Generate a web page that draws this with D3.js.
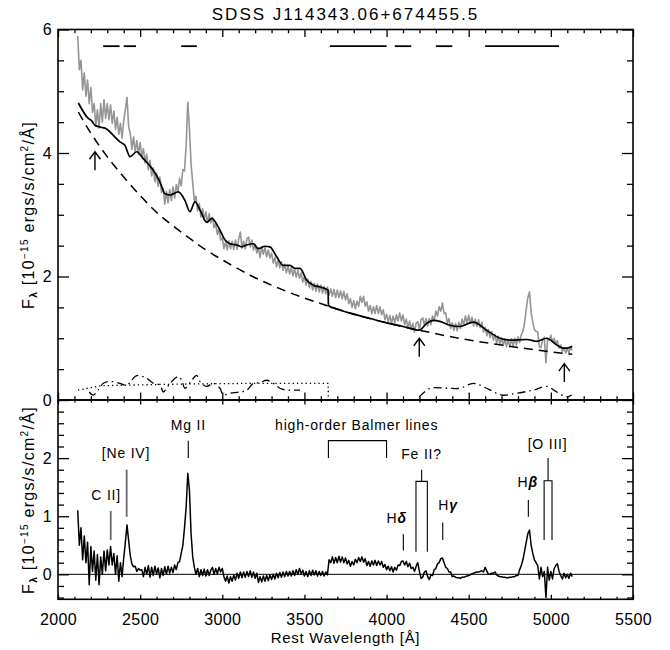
<!DOCTYPE html>
<html><head><meta charset="utf-8">
<script src="https://cdn.jsdelivr.net/npm/d3@7/dist/d3.min.js"></script>
<style>
body{margin:0;background:#fff;}
svg text{font-family:"Liberation Sans",Arial,Helvetica,sans-serif;fill:#000;}
</style></head><body>
<svg id="chart" width="670" height="650"></svg>
<script>
// ---------------- DATA ----------------
const titleText = "SDSS J114343.06+674455.5";
const waveStart = 2120, waveStep = 10;   // wavelength grid of the observed spectrum (Å)

// observed spectrum (grey), 10^-15 erg/s/cm2/Å, 2120..5130 Å
const observedFlux = [
 5.90,5.35,5.50,5.02,5.30,4.92,5.18,4.80,5.06,4.66,
 4.80,4.44,4.70,4.40,4.80,4.50,4.86,4.56,4.80,4.54,
 4.78,4.48,4.68,4.38,4.58,4.30,4.48,4.24,4.52,4.70,
 4.90,4.42,4.32,4.06,4.26,4.02,4.20,3.98,4.17,3.94,
 4.07,3.84,3.98,3.73,3.88,3.63,3.76,3.53,3.67,3.46,
 3.61,3.36,3.43,3.17,3.38,3.19,3.41,3.23,3.45,3.27,
 3.49,3.37,3.59,3.47,3.73,3.71,4.12,4.82,4.40,3.82,
 3.52,3.22,3.30,3.06,3.18,2.96,3.10,2.92,3.05,2.87,
 3.02,2.87,2.96,2.79,2.86,2.68,2.76,2.59,2.63,2.45,
 2.56,2.43,2.58,2.45,2.57,2.44,2.59,2.44,2.61,2.72,
 2.46,2.57,2.45,2.61,2.64,2.48,2.59,2.43,2.52,2.38,
 2.46,2.31,2.48,2.36,2.47,2.32,2.43,2.30,2.38,2.22,
 2.31,2.16,2.26,2.14,2.24,2.10,2.20,2.06,2.17,2.04,
 2.15,2.01,2.12,1.99,2.10,1.97,2.06,1.91,2.00,1.86,
 1.96,1.82,1.92,1.78,1.89,1.76,1.88,1.75,1.86,1.73,
 1.84,1.72,1.83,1.70,1.80,1.68,1.79,1.66,1.78,1.66,
 1.77,1.64,1.76,1.62,1.72,1.56,1.64,1.50,1.61,1.48,
 1.60,1.52,1.68,1.58,1.68,1.52,1.59,1.44,1.53,1.40,
 1.51,1.40,1.53,1.40,1.51,1.38,1.46,1.30,1.39,1.26,
 1.37,1.24,1.36,1.25,1.38,1.28,1.41,1.28,1.38,1.22,
 1.31,1.17,1.28,1.14,1.24,1.10,1.24,1.27,1.13,1.30,
 1.33,1.21,1.32,1.20,1.32,1.22,1.36,1.28,1.44,1.36,
 1.51,1.44,1.57,1.40,1.41,1.24,1.32,1.16,1.25,1.13,
 1.24,1.12,1.26,1.16,1.31,1.22,1.36,1.24,1.37,1.24,
 1.34,1.20,1.31,1.19,1.30,1.17,1.26,1.10,1.18,1.04,
 1.14,1.01,1.11,0.97,1.06,0.92,1.03,0.90,1.01,0.88,
 0.99,0.86,0.98,0.86,0.99,0.87,1.00,0.89,1.02,0.93,
 1.06,1.11,1.25,1.47,1.66,1.75,1.42,1.26,1.14,1.11,
 1.10,0.86,0.85,0.97,1.02,0.60,0.98,0.97,1.05,0.94,
 1.00,0.91,0.96,0.84,0.89,0.78,0.85,0.76,0.83,0.76,0.86,0.80
];

// residual spectrum (bottom panel), same grid
const residualFlux = [
 1.10,0.50,0.80,0.25,0.66,0.20,0.55,-0.18,0.48,0.05,
 0.40,-0.10,0.34,-0.18,0.30,0.00,0.40,0.06,0.42,0.16,
 0.48,0.16,0.36,0.00,0.32,-0.12,0.20,-0.04,0.28,0.55,
 0.85,0.58,0.32,0.18,0.13,0.14,0.05,0.10,0.07,0.08,
 -0.04,0.12,0.00,0.15,-0.05,0.12,-0.02,0.14,0.01,0.11,
 -0.06,0.10,-0.02,0.13,0.00,0.14,0.02,0.12,0.03,0.16,
 0.08,0.20,0.22,0.36,0.50,0.80,1.15,1.74,1.45,0.70,
 0.30,0.12,0.00,0.10,-0.04,0.08,-0.02,0.09,-0.03,0.08,
 -0.02,0.07,0.12,0.00,0.10,0.01,0.12,0.04,0.10,-0.04,
 -0.12,-0.03,-0.15,-0.04,-0.12,-0.01,-0.10,0.02,-0.07,0.04,
 -0.06,0.04,-0.05,0.05,-0.04,0.06,-0.05,0.04,-0.07,0.02,
 -0.14,-0.04,-0.13,-0.03,-0.12,-0.02,-0.11,-0.01,-0.09,0.00,
 -0.08,0.02,-0.06,0.03,-0.05,0.04,-0.04,0.05,-0.03,0.05,
 -0.03,0.06,-0.02,0.08,0.00,0.10,0.01,0.07,-0.03,0.05,
 -0.04,0.06,-0.02,0.07,-0.01,0.06,-0.03,0.05,-0.02,0.05,
 -0.03,0.04,-0.01,0.25,0.20,0.30,0.19,0.29,0.20,0.31,
 0.21,0.30,0.20,0.28,0.18,0.24,0.14,0.22,0.16,0.26,
 0.20,0.29,0.22,0.30,0.21,0.27,0.15,0.22,0.14,0.23,
 0.16,0.24,0.15,0.23,0.16,0.22,0.12,0.17,0.08,0.14,
 0.06,0.13,0.04,0.12,0.07,0.16,0.15,0.22,0.23,0.16,
 0.22,0.13,0.19,0.10,0.12,0.05,0.14,0.20,0.05,-0.07,
 -0.05,0.04,0.06,-0.04,-0.09,-0.01,-0.02,0.08,0.10,0.18,
 0.20,0.27,0.28,0.20,0.12,0.10,0.04,0.04,-0.04,-0.03,
 -0.05,-0.06,-0.06,-0.07,-0.05,-0.05,-0.04,-0.03,-0.02,-0.01,
 0.01,0.02,0.03,0.04,0.04,0.05,0.06,0.04,0.12,0.06,
 0.00,0.00,0.02,0.02,0.04,-0.01,-0.03,-0.04,-0.04,-0.05,
 -0.05,-0.06,-0.06,-0.05,-0.05,-0.04,-0.04,-0.02,-0.02,0.08,
 0.15,0.25,0.40,0.55,0.70,0.76,0.50,0.36,0.25,0.20,
 0.15,-0.08,0.12,-0.04,0.05,-0.40,0.12,-0.10,0.05,-0.08,
 0.10,0.15,0.18,0.05,-0.02,-0.08,0.02,-0.06,0.00,-0.07,0.02,-0.04
];

// total model fit (solid black)
const modelWave = [2124,2184,2205,2225,2256,2296,2335,2377,2408,2438,2479,2519,2580,2621,2651,2682,2732,2773,2803,2834,2864,2905,2936,2976,3017,3047,3088,3118,3149,3189,3219,3260,3290,3331,3371,3412,3443,3473,3514,3554,3595,3644,3646,3700,3800,3900,4000,4100,4173,4199,4244,4284,4330,4386,4447,4528,4609,4690,4751,4853,4914,4975,5036,5076,5100,5130];
const modelFlux = [4.81,4.56,4.52,4.45,4.42,4.39,4.29,4.18,4.12,3.94,4.02,3.91,3.72,3.53,3.34,3.32,3.37,3.23,3.05,3.21,3.08,2.88,2.94,2.80,2.59,2.53,2.51,2.48,2.51,2.53,2.45,2.49,2.48,2.32,2.18,2.18,2.13,2.13,1.94,1.86,1.83,1.78,1.53,1.47,1.39,1.32,1.25,1.19,1.14,1.13,1.24,1.29,1.27,1.21,1.19,1.26,1.13,1.00,0.97,0.98,0.95,1.00,0.89,0.84,0.84,0.87];

// power-law continuum (dashed)
const powerWave = [2124,2200,2300,2400,2500,2600,2700,2800,2900,3000,3200,3400,3646,3800,4000,4200,4400,4600,4800,5000,5130];
const powerFlux = [4.66,4.32,3.94,3.61,3.31,3.04,2.82,2.62,2.43,2.27,1.98,1.75,1.52,1.39,1.25,1.13,1.02,0.93,0.85,0.78,0.74];

// Balmer continuum (dotted)
const balmerWave = [2122,2200,2260,2400,2800,3200,3644,3646];
const balmerFlux = [0.16,0.20,0.23,0.24,0.26,0.27,0.27,0.03];

// Fe II template (dash-dot), two pieces
const feWaveUV = [2190,2215,2240,2276,2317,2377,2418,2469,2489,2540,2580,2621,2641,2682,2732,2753,2773,2814,2844,2864,2905,2945,2986,3006,3047,3108,3149,3189,3230,3270,3311,3351,3392,3432,3473];
const feFluxUV = [0.13,0.08,0.15,0.27,0.30,0.27,0.24,0.38,0.40,0.35,0.27,0.24,0.13,0.27,0.38,0.32,0.19,0.32,0.40,0.30,0.22,0.27,0.19,0.08,0.11,0.13,0.16,0.27,0.28,0.32,0.27,0.19,0.16,0.16,0.16];
const feWaveOpt = [4199,4264,4366,4447,4528,4609,4701,4792,4893,4975,5036,5097,5127];
const feFluxOpt = [0.05,0.19,0.19,0.19,0.27,0.19,0.08,0.11,0.16,0.22,0.13,0.05,0.08];

// continuum windows (bars at top)
const windowStart = [2275,2400,2750,3655,4050,4300,4600];
const windowEnd   = [2375,2475,2845,4000,4150,4400,5050];
const windowLevel = 5.73;

// arrows (continuum anchor points)
const arrowWave = [2225,4199,5082];
const arrowTip  = [4.02,1.00,0.59];
const arrowTail = [3.72,0.70,0.29];

// line identifications, bottom panel
const markerName = ["C II]","[Ne IV]","Mg II","Hδ","Hγ","Hβ"];
const markerWave = [2321,2418,2793,4102,4342,4863];
const markerLow  = [0.59,0.99,2.00,0.41,0.59,0.99];
const markerHigh = [1.09,1.80,2.30,0.69,0.89,1.28];

const labelText = ["C II]","[Ne IV]","Mg II","high-order Balmer lines","Fe II?","H|δ","H|γ","H|β","[O III]"];
const labelWave = [2293,2414,2793,3818,4213,4062,4374,4859,4980];
const labelFlux = [1.28,2.00,2.49,2.49,1.98,0.89,1.11,1.50,2.15];

const bracketLeft   = [3646,4179,4959];
const bracketRight  = [4000,4248,5007];
const bracketTop    = [2.30,1.60,1.61];
const bracketBottom = [2.00,0.39,0.59];
const bracketStem   = [null,1.80,2.00];

const xTickValues = [2000,2500,3000,3500,4000,4500,5000,5500];
const topYTickValues = [0,2,4,6];
const botYTickValues = [0,1,2];

// ---------------- LAYOUT ----------------
const L = 58, R = 633, T = 29.5, MID = 400, B = 599.3;
const svg = d3.select("#chart");
const x = d3.scaleLinear().domain([2000,5500]).range([L,R]);
const yTop = d3.scaleLinear().domain([0,6]).range([MID,T]);
const yBot = d3.scaleLinear().domain([-0.43,3]).range([B,MID]);
const waves = observedFlux.map((_,i)=>waveStart+i*waveStep);

const xMinor = d3.range(2000,5501,100).filter(v=>v%500!==0);
const topYMinor = d3.range(0,6.01,0.5).filter(v=>v%2!==0);
const botYMinor = d3.range(-0.4,3.0,0.2).map(v=>+v.toFixed(1)).filter(v=>Math.abs(v-Math.round(v))>1e-6);

function ticks(axisFn, scale, vals, size, tr){
  svg.append("g").attr("transform",tr)
    .call(axisFn(scale).tickValues(vals).tickSize(size).tickFormat(""))
    .call(g=>{g.select(".domain").remove(); g.selectAll("line").attr("stroke","#000").attr("stroke-width",1.3);});
}
// top panel ticks
ticks(d3.axisTop, x, xTickValues, 7.5, `translate(0,${MID})`);
ticks(d3.axisTop, x, xMinor, 3.8, `translate(0,${MID})`);
ticks(d3.axisBottom, x, xTickValues, 7.5, `translate(0,${T})`);
ticks(d3.axisBottom, x, xMinor, 3.8, `translate(0,${T})`);
ticks(d3.axisRight, yTop, topYTickValues, 11, `translate(${L},0)`);
ticks(d3.axisRight, yTop, topYMinor, 6, `translate(${L},0)`);
ticks(d3.axisLeft, yTop, topYTickValues, 11, `translate(${R},0)`);
ticks(d3.axisLeft, yTop, topYMinor, 6, `translate(${R},0)`);
// bottom panel ticks
ticks(d3.axisBottom, x, xTickValues, 4.5, `translate(0,${MID})`);
ticks(d3.axisBottom, x, xMinor, 2.5, `translate(0,${MID})`);
ticks(d3.axisTop, x, xTickValues, 4.5, `translate(0,${B})`);
ticks(d3.axisTop, x, xMinor, 2.5, `translate(0,${B})`);
ticks(d3.axisRight, yBot, botYTickValues, 11, `translate(${L},0)`);
ticks(d3.axisRight, yBot, botYMinor, 6, `translate(${L},0)`);
ticks(d3.axisLeft, yBot, botYTickValues, 11, `translate(${R},0)`);
ticks(d3.axisLeft, yBot, botYMinor, 6, `translate(${R},0)`);

// tick labels
function labels(axisFn, scale, vals, pad, tr){
  svg.append("g").attr("transform",tr)
    .call(axisFn(scale).tickValues(vals).tickSize(0).tickPadding(pad).tickFormat(d3.format("d")))
    .call(g=>{g.select(".domain").remove(); g.attr("font-family",null).attr("font-size",null);
      g.selectAll("text").style("font-size","16px").style("letter-spacing","0.4px");});
}
labels(d3.axisLeft, yTop, topYTickValues, 6, `translate(${L},0)`);
labels(d3.axisLeft, yBot, botYTickValues, 6, `translate(${L},0)`);
labels(d3.axisBottom, x, xTickValues, 14, `translate(0,${B})`);

// frames
svg.append("rect").attr("x",L).attr("y",T).attr("width",R-L).attr("height",MID-T)
  .attr("fill","none").attr("stroke","#000").attr("stroke-width",1.6);
svg.append("rect").attr("x",L).attr("y",MID).attr("width",R-L).attr("height",B-MID)
  .attr("fill","none").attr("stroke","#000").attr("stroke-width",1.6);

// ---------------- TOP PANEL ----------------
const gTop = svg.append("g");
gTop.append("path").datum(observedFlux)
  .attr("d", d3.line().x((d,i)=>x(waves[i])).y(d=>yTop(d)))
  .attr("fill","none").attr("stroke","#959595").attr("stroke-width",1.6).attr("stroke-linejoin","round");

gTop.append("path").datum(powerFlux)
  .attr("d", d3.line().x((d,i)=>x(powerWave[i])).y(d=>yTop(d)).curve(d3.curveMonotoneX))
  .attr("fill","none").attr("stroke","#000").attr("stroke-width",1.5).attr("stroke-dasharray","9,6");

gTop.append("path").datum(modelFlux)
  .attr("d", d3.line().x((d,i)=>x(modelWave[i])).y(d=>yTop(d)).curve(d3.curveMonotoneX))
  .attr("fill","none").attr("stroke","#000").attr("stroke-width",1.7);

gTop.append("path").datum(balmerFlux)
  .attr("d", d3.line().x((d,i)=>x(balmerWave[i])).y(d=>yTop(d)))
  .attr("fill","none").attr("stroke","#000").attr("stroke-width",1.3).attr("stroke-dasharray","1.3,3");

[[feWaveUV,feFluxUV],[feWaveOpt,feFluxOpt]].forEach(([w,f])=>{
  gTop.append("path").datum(f)
    .attr("d", d3.line().x((d,i)=>x(w[i])).y(d=>yTop(d)).curve(d3.curveCatmullRom))
    .attr("fill","none").attr("stroke","#000").attr("stroke-width",1.3).attr("stroke-dasharray","8,4,1.5,4");
});

// windows
gTop.selectAll("line.win").data(windowStart).join("line")
  .attr("x1",(d)=>x(d)).attr("x2",(d,i)=>x(windowEnd[i]))
  .attr("y1",yTop(windowLevel)).attr("y2",yTop(windowLevel))
  .attr("stroke","#000").attr("stroke-width",1.8);

// arrows
arrowWave.forEach((w,i)=>{
  const ax = x(w), ty = yTop(arrowTip[i]), by = yTop(arrowTail[i]);
  gTop.append("path").attr("d",`M${ax},${by}L${ax},${ty}M${ax-5.5},${ty+7.5}L${ax},${ty}L${ax+5.5},${ty+7.5}`)
    .attr("fill","none").attr("stroke","#000").attr("stroke-width",1.4);
});

// ---------------- BOTTOM PANEL ----------------
const gBot = svg.append("g");
gBot.append("line").attr("x1",L).attr("x2",R).attr("y1",yBot(0)).attr("y2",yBot(0))
  .attr("stroke","#000").attr("stroke-width",1);
gBot.append("path").datum(residualFlux)
  .attr("d", d3.line().x((d,i)=>x(waves[i])).y(d=>yBot(d)))
  .attr("fill","none").attr("stroke","#000").attr("stroke-width",1.5).attr("stroke-linejoin","round");

const greyMarkers = new Set(["C II]","[Ne IV]"]);
markerName.forEach((n,i)=>{
  gBot.append("line").attr("x1",x(markerWave[i])).attr("x2",x(markerWave[i]))
    .attr("y1",yBot(markerLow[i])).attr("y2",yBot(markerHigh[i]))
    .attr("stroke",greyMarkers.has(n)?"#6a6a6a":"#000").attr("stroke-width",greyMarkers.has(n)?1.8:1.1);
});
bracketLeft.forEach((l,i)=>{
  const r = bracketRight[i];
  gBot.append("path").attr("d",`M${x(l)},${yBot(bracketBottom[i])}L${x(l)},${yBot(bracketTop[i])}L${x(r)},${yBot(bracketTop[i])}L${x(r)},${yBot(bracketBottom[i])}`)
    .attr("fill","none").attr("stroke","#000").attr("stroke-width",1.1);
  if(bracketStem[i]!==null){
    const m = (l+r)/2;
    gBot.append("line").attr("x1",x(m)).attr("x2",x(m)).attr("y1",yBot(bracketTop[i])).attr("y2",yBot(bracketStem[i]))
      .attr("stroke","#000").attr("stroke-width",1.1);
  }
});
labelText.forEach((t,i)=>{
  const tx = gBot.append("text").attr("x",x(labelWave[i])).attr("y",yBot(labelFlux[i]))
    .attr("text-anchor","middle").style("font-size","14px").style("letter-spacing","0.8px");
  if(t.includes("|")){
    const [a,b] = t.split("|");
    tx.append("tspan").text(a);
    tx.append("tspan").text(b).style("font-weight","bold").style("font-style","italic");
  } else tx.text(t);
});

// ---------------- TITLES ----------------
svg.append("text").attr("x",345.5).attr("y",20).attr("text-anchor","middle")
  .style("font-size","17px").style("letter-spacing","2px").text(titleText);
svg.append("text").attr("x",345.5).attr("y",643).attr("text-anchor","middle")
  .style("font-size","15px").style("letter-spacing","0.7px").text("Rest Wavelength [Å]");

function yLabel(cy){
  const t = svg.append("text").attr("transform",`translate(34,${cy}) rotate(-90)`)
    .attr("text-anchor","middle").style("font-size","16px").style("letter-spacing","1.3px");
  t.append("tspan").text("F");
  t.append("tspan").attr("dy",3).style("font-size","10px").style("font-weight","bold").text("λ");
  t.append("tspan").attr("dy",-3).text(" [10");
  t.append("tspan").attr("dy",-6).style("font-size","10px").text("−15");
  t.append("tspan").attr("dy",6).text(" ergs/s/cm");
  t.append("tspan").attr("dy",-6).style("font-size","10px").text("2");
  t.append("tspan").attr("dy",6).text("/Å]");
}
yLabel(215);
yLabel(500);
</script>
</body></html>
